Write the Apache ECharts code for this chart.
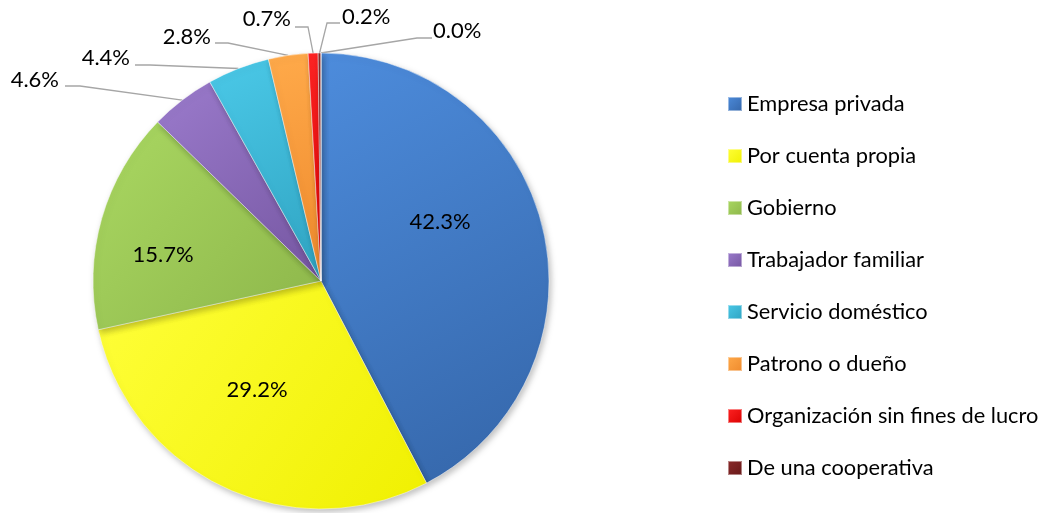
<!DOCTYPE html>
<html>
<head>
<meta charset="utf-8">
<script src="https://cdn.jsdelivr.net/npm/echarts@6/dist/echarts.min.js"></script>
<style>
  html, body { margin: 0; padding: 0; background: #fff; }
  #grafica { width: 1046px; height: 513px; }
</style>
</head>
<body>
<div id="grafica"></div>
<script>
// categorias y valores (%), sentido horario desde arriba
var categorias = ['Empresa privada', 'Por cuenta propia', 'Gobierno', 'Trabajador familiar',
  'Servicio doméstico', 'Patrono o dueño', 'Organización sin fines de lucro', 'De una cooperativa', 'Otro']
var valores = [42.3, 29.2, 15.7, 4.6, 4.4, 2.8, 0.7, 0.2, 0.0]
var colores = [
  ['#4d8cdc', '#3465a8'],
  ['#ffff3a', '#f0f000'],
  ['#aad862', '#8db64a'],
  ['#9b7bcc', '#7556a1'],
  ['#4bc9e8', '#2fa3c1'],
  ['#ffaa4a', '#ee892c'],
  ['#ff2424', '#d90000'],
  ['#8c2c2c', '#661818'],
  ['#999999', '#777777']
]

// posicion de etiquetas (x, y, alineacion, codo de la linea, fin de la linea)
var posiciones = [
  { x: 440, y: 222, align: 'center' },
  { x: 257, y: 390, align: 'center' },
  { x: 163, y: 255, align: 'center' },
  { x: 59, y: 80, align: 'right', codo: [80, 86], fin: [65, 86] },
  { x: 130, y: 58, align: 'right', codo: [150, 65], fin: [135, 65] },
  { x: 211, y: 37, align: 'right', codo: [228, 43], fin: [215, 43] },
  { x: 291, y: 19, align: 'right', codo: [308, 27], fin: [295, 27] },
  { x: 342, y: 17, align: 'left', codo: [327, 23], fin: [340, 23] },
  { x: 433, y: 31, align: 'left', codo: [417, 38], fin: [432, 38] }
]

var datos = valores.map(function (v, i) {
  var fuera = i > 2
  return {
    name: categorias[i],
    value: v,
    itemStyle: {
      color: new echarts.graphic.LinearGradient(0, 0, 1, 1, [
        { offset: 0, color: colores[i][0] },
        { offset: 1, color: colores[i][1] }
      ])
    },
    label: { position: fuera ? 'outside' : 'inside' },
    labelLine: { show: fuera }
  }
})

var myChart = echarts.init(document.getElementById('grafica'))
var option = {
  animation: false,
  legend: {
    orient: 'vertical',
    left: 722,
    top: 87,
    data: categorias.slice(0, 8),
    itemWidth: 14,
    itemHeight: 14,
    itemGap: 28,
    icon: 'rect',
    textStyle: { fontFamily: 'Lato', fontSize: 21.8, lineHeight: 24, color: '#000' }
  },
  series: [{
    type: 'pie',
    center: [321, 281],
    radius: 228,
    startAngle: 90,
    clockwise: true,
    minAngle: 0,
    avoidLabelOverlap: false,
    stillShowZeroSum: true,
    itemStyle: {
      borderColor: 'rgba(255,255,255,0.45)',
      borderWidth: 1,
      shadowBlur: 6,
      shadowOffsetX: 2,
      shadowOffsetY: 3,
      shadowColor: 'rgba(0,0,0,0.25)'
    },
    label: {
      show: true,
      fontFamily: 'Lato',
      fontSize: 22,
      color: '#000',
      formatter: function (p) { return p.value.toFixed(1) + '%' }
    },
    labelLine: {
      show: true,
      lineStyle: { color: '#a6a6a6', width: 1.3 }
    },
    labelLayout: function (params) {
      var pos = posiciones[params.dataIndex]
      var res = { x: pos.x, y: pos.y, align: pos.align, verticalAlign: 'middle' }
      if (pos.codo && params.labelLinePoints) {
        res.labelLinePoints = [params.labelLinePoints[0], pos.codo, pos.fin]
      }
      return res
    },
    emphasis: { disabled: true },
    data: datos
  }]
}
myChart.setOption(option)
</script>
</body>
</html>
